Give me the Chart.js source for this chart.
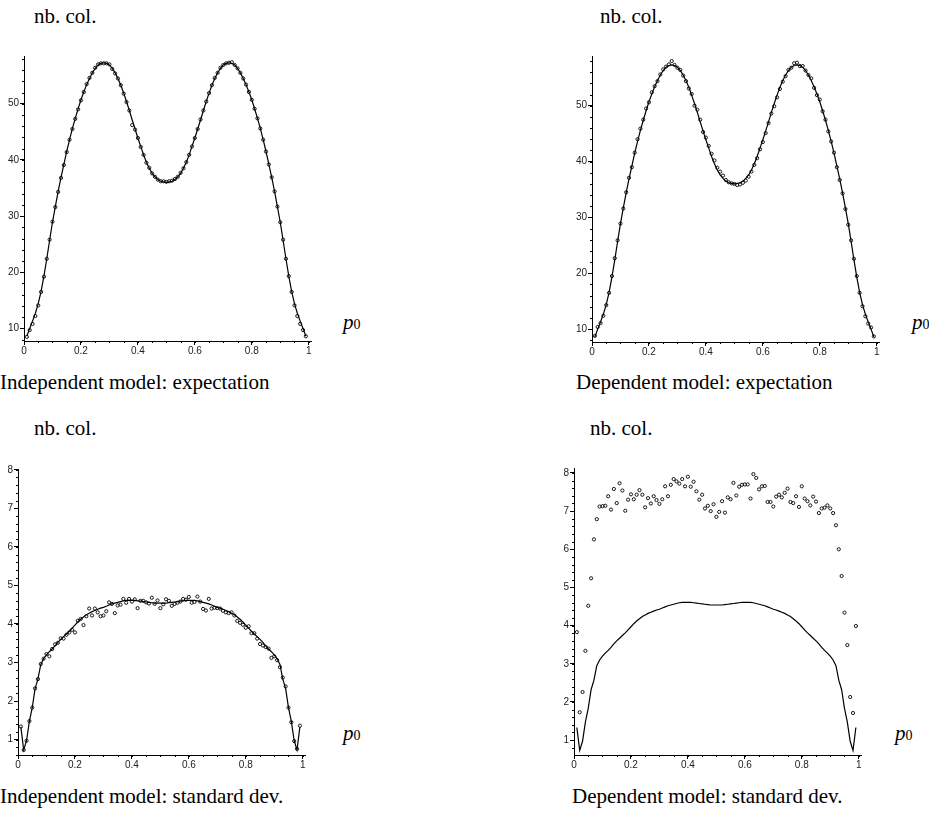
<!DOCTYPE html>
<html>
<head>
<meta charset="utf-8">
<script src="https://cdn.jsdelivr.net/npm/chart.js@4.4.0/dist/chart.umd.min.js"></script>
<style>
    html, body { margin: 0; padding: 0; background: #fff; }
    #page { position: relative; width: 929px; height: 816px; overflow: hidden; }
    #page canvas { position: absolute; }
    .txt {
        position: absolute;
        font-family: "Liberation Serif", "Times New Roman", serif;
        font-size: 21px;
        line-height: 21px;
        white-space: nowrap;
        color: #000;
    }
    .p0 i { font-size: 21px; }
    .p0 span { font-size: 14px; }
</style>
</head>
<body>
<div id="page">
    <canvas id="c1"></canvas>
    <canvas id="c2"></canvas>
    <canvas id="c3"></canvas>
    <canvas id="c4"></canvas>

    <div class="txt" style="left:34px;top:6px;">nb. col.</div>
    <div class="txt" style="left:600px;top:6px;">nb. col.</div>
    <div class="txt" style="left:34px;top:418px;">nb. col.</div>
    <div class="txt" style="left:590px;top:418px;">nb. col.</div>

    <div class="txt p0" style="left:343px;top:312px;"><i>p</i><span>0</span></div>
    <div class="txt p0" style="left:912px;top:312px;"><i>p</i><span>0</span></div>
    <div class="txt p0" style="left:343px;top:723px;"><i>p</i><span>0</span></div>
    <div class="txt p0" style="left:895px;top:723px;"><i>p</i><span>0</span></div>

    <div class="txt" style="left:0px;top:372px;">Independent model: expectation</div>
    <div class="txt" style="left:576px;top:372px;">Dependent model: expectation</div>
    <div class="txt" style="left:0px;top:786px;">Independent model: standard dev.</div>
    <div class="txt" style="left:572px;top:786px;">Dependent model: standard dev.</div>
</div>

<script>
/* =========================
   DATA
========================= */
const P0 = [
    0.01, 0.02, 0.03, 0.04, 0.05, 0.06, 0.07, 0.08, 0.09, 0.10,
    0.11, 0.12, 0.13, 0.14, 0.15, 0.16, 0.17, 0.18, 0.19, 0.20,
    0.21, 0.22, 0.23, 0.24, 0.25, 0.26, 0.27, 0.28, 0.29, 0.30,
    0.31, 0.32, 0.33, 0.34, 0.35, 0.36, 0.37, 0.38, 0.39, 0.40,
    0.41, 0.42, 0.43, 0.44, 0.45, 0.46, 0.47, 0.48, 0.49, 0.50,
    0.51, 0.52, 0.53, 0.54, 0.55, 0.56, 0.57, 0.58, 0.59, 0.60,
    0.61, 0.62, 0.63, 0.64, 0.65, 0.66, 0.67, 0.68, 0.69, 0.70,
    0.71, 0.72, 0.73, 0.74, 0.75, 0.76, 0.77, 0.78, 0.79, 0.80,
    0.81, 0.82, 0.83, 0.84, 0.85, 0.86, 0.87, 0.88, 0.89, 0.90,
    0.91, 0.92, 0.93, 0.94, 0.95, 0.96, 0.97, 0.98, 0.99
];

const X_TICKS = [0, 0.2, 0.4, 0.6, 0.8, 1];
const EXP_TICKS = [10, 20, 30, 40, 50];
const STD_TICKS = [1, 2, 3, 4, 5, 6, 7, 8];

// theoretical expectation (solid line, both top panels)
const EXP_LINE = [
    8.6, 10.0, 11.3, 12.7, 14.4, 16.6, 19.3, 22.4, 25.7, 28.9,
    31.7, 34.4, 36.9, 39.2, 41.5, 43.6, 45.6, 47.4, 49.1, 50.7,
    52.1, 53.4, 54.5, 55.5, 56.3, 56.9, 57.2, 57.3, 57.2, 56.9,
    56.3, 55.5, 54.5, 53.3, 51.9, 50.4, 48.8, 47.1, 45.5, 43.9,
    42.4, 40.9, 39.6, 38.5, 37.6, 37.0, 36.5, 36.2, 36.1, 36.0,
    36.1, 36.2, 36.5, 37.0, 37.6, 38.5, 39.6, 40.9, 42.4, 43.9,
    45.5, 47.1, 48.8, 50.4, 51.9, 53.3, 54.5, 55.5, 56.3, 56.9,
    57.2, 57.3, 57.2, 56.9, 56.3, 55.5, 54.5, 53.4, 52.1, 50.7,
    49.1, 47.4, 45.6, 43.6, 41.5, 39.2, 36.9, 34.4, 31.7, 28.9,
    25.7, 22.4, 19.3, 16.6, 14.4, 12.7, 11.3, 10.0, 8.6
];

// simulated expectation, independent model (circles)
const EXP_INDEP = [
    8.5, 9.7, 10.8, 12.2, 14.1, 16.5, 19.2, 22.4, 25.8, 29.0,
    31.6, 34.3, 36.8, 39.1, 41.4, 43.6, 45.5, 47.3, 49.0, 50.6,
    52.1, 53.5, 54.6, 55.5, 56.4, 57.0, 57.2, 57.2, 57.2, 57.0,
    56.2, 55.4, 54.5, 53.3, 51.8, 50.3, 48.8, 46.2, 45.4, 43.9,
    42.3, 40.9, 39.5, 38.6, 37.6, 37.0, 36.5, 36.2, 36.2, 36.1,
    36.2, 36.3, 36.6, 37.0, 37.7, 38.5, 39.6, 40.9, 42.4, 43.9,
    45.5, 47.2, 48.8, 50.4, 51.9, 53.3, 54.6, 55.5, 56.4, 56.9,
    57.2, 57.3, 57.4, 56.9, 56.3, 55.5, 54.5, 53.4, 52.1, 50.7,
    49.1, 47.4, 45.6, 43.6, 41.5, 39.2, 36.9, 34.4, 31.7, 28.9,
    25.8, 22.4, 19.3, 16.5, 14.1, 12.2, 10.8, 9.7, 8.6
];

// simulated expectation, dependent model (circles)
const EXP_DEP = [
    8.8, 10.4, 11.1, 12.4, 14.3, 16.5, 19.5, 22.7, 25.9, 28.9,
    31.6, 34.5, 37.1, 39.0, 41.6, 44.0, 45.9, 47.5, 49.5, 50.6,
    52.4, 53.5, 54.4, 55.6, 56.5, 57.0, 57.4, 58.0, 57.3, 56.8,
    56.4, 55.4, 54.4, 53.1, 52.1, 50.0, 49.3, 47.5, 45.3, 44.3,
    42.8, 41.4, 40.2, 38.9, 38.2, 37.5, 36.7, 36.3, 36.1, 36.0,
    35.8, 35.9, 36.2, 36.6, 37.3, 38.2, 39.4, 40.6, 42.2, 43.5,
    45.1, 46.9, 48.6, 49.9, 51.5, 53.0, 54.3, 55.3, 56.4, 56.8,
    57.6, 57.7, 57.1, 57.1, 56.3, 55.5, 54.9, 53.2, 51.9, 51.1,
    49.0, 47.5, 45.4, 43.6, 41.6, 39.0, 36.7, 34.3, 31.5, 28.7,
    25.9, 22.6, 19.5, 16.5, 14.1, 12.3, 11.0, 10.3, 8.7
];

// theoretical standard deviation (solid line, both bottom panels)
const STD_LINE = [
    1.33, 0.73, 0.97, 1.47, 1.83, 2.32, 2.57, 2.95, 3.10, 3.20,
    3.28, 3.35, 3.43, 3.52, 3.60, 3.67, 3.74, 3.81, 3.89, 3.97,
    4.05, 4.12, 4.18, 4.24, 4.28, 4.32, 4.35, 4.38, 4.41, 4.43,
    4.46, 4.49, 4.52, 4.54, 4.56, 4.58, 4.60, 4.61, 4.61, 4.61,
    4.61, 4.60, 4.59, 4.58, 4.57, 4.56, 4.55, 4.54, 4.54, 4.54,
    4.54, 4.54, 4.55, 4.56, 4.57, 4.58, 4.59, 4.60, 4.61, 4.61,
    4.61, 4.61, 4.60, 4.58, 4.56, 4.54, 4.52, 4.49, 4.46, 4.43,
    4.41, 4.38, 4.35, 4.32, 4.28, 4.24, 4.18, 4.12, 4.05, 3.97,
    3.89, 3.81, 3.74, 3.67, 3.60, 3.52, 3.43, 3.35, 3.28, 3.20,
    3.10, 2.95, 2.57, 2.32, 1.83, 1.47, 0.97, 0.73, 1.33
];

// simulated standard deviation, independent model (circles)
const STD_INDEP = [
    1.34, 0.73, 0.97, 1.48, 1.83, 2.33, 2.57, 2.96, 3.10, 3.22,
    3.16, 3.35, 3.47, 3.51, 3.63, 3.62, 3.72, 3.78, 3.85, 3.78,
    4.08, 4.13, 3.97, 4.20, 4.40, 4.22, 4.40, 4.30, 4.20, 4.22,
    4.33, 4.56, 4.52, 4.28, 4.48, 4.50, 4.65, 4.55, 4.65, 4.58,
    4.64, 4.41, 4.60, 4.60, 4.56, 4.53, 4.68, 4.52, 4.61, 4.41,
    4.51, 4.64, 4.60, 4.47, 4.52, 4.55, 4.58, 4.65, 4.63, 4.70,
    4.55, 4.57, 4.71, 4.58, 4.39, 4.35, 4.65, 4.40, 4.42, 4.41,
    4.40, 4.34, 4.30, 4.28, 4.30, 4.22, 4.08, 4.03, 3.98, 3.90,
    3.94, 3.76, 3.76, 3.62, 3.48, 3.44, 3.40, 3.36, 3.12, 3.16,
    3.06, 2.88, 2.61, 2.38, 1.83, 1.45, 0.96, 0.76, 1.36
];

// simulated standard deviation, dependent model (circles)
const STD_DEP = [
    3.83, 1.73, 2.26, 3.34, 4.52, 5.24, 6.26, 6.79, 7.12, 7.13,
    7.14, 7.39, 7.04, 7.58, 7.21, 7.73, 7.54, 7.01, 7.30, 7.44,
    7.31, 7.43, 7.55, 7.43, 7.10, 7.34, 7.20, 7.39, 7.29, 7.19,
    7.31, 7.65, 7.39, 7.69, 7.84, 7.78, 7.72, 7.84, 7.65, 7.90,
    7.64, 7.77, 7.52, 7.30, 7.43, 7.07, 7.14, 7.00, 7.18, 6.85,
    6.98, 7.26, 6.96, 7.36, 7.31, 7.74, 7.41, 7.64, 7.69, 7.70,
    7.70, 7.33, 7.97, 7.87, 7.57, 7.65, 7.66, 7.24, 7.24, 7.12,
    7.38, 7.43, 7.36, 7.48, 7.59, 7.24, 7.21, 7.39, 7.11, 7.65,
    7.33, 7.26, 7.15, 7.38, 7.25, 6.95, 7.07, 7.09, 7.15, 7.07,
    6.95, 6.63, 6.00, 5.30, 4.34, 3.49, 2.13, 1.71, 3.99
];

/* =========================
   LAYOUT CONSTANTS
========================= */
const PX_PER_UNIT = 284.5;   // horizontal pixels per unit of p0
const X_MAX = 1.008;
const Y_AXIS_W = 30;
const X_AXIS_H = 22;
const PAD_T = 4;
const PAD_R = 6;

/* =========================
   MINOR TICKS PLUGIN
========================= */
const minorTicks = {
    id: 'minorTicks',
    afterDraw(chart, args, opts) {
        const { ctx, chartArea, scales } = chart;
        const xs = scales.x, ys = scales.y;
        ctx.save();
        ctx.strokeStyle = '#000';
        ctx.lineWidth = 1;
        ctx.beginPath();

        for (let k = Math.ceil(xs.min / opts.x - 1e-9); k * opts.x <= xs.max + 1e-9; k++) {
            const px = Math.round(xs.getPixelForValue(k * opts.x)) + 0.5;
            ctx.moveTo(px, chartArea.bottom);
            ctx.lineTo(px, chartArea.bottom + 2);
        }
        for (let k = Math.ceil(ys.min / opts.y - 1e-9); k * opts.y <= ys.max + 1e-9; k++) {
            const py = Math.round(ys.getPixelForValue(k * opts.y)) + 0.5;
            ctx.moveTo(chartArea.left, py);
            ctx.lineTo(chartArea.left - 2, py);
        }
        ctx.stroke();
        ctx.restore();
    }
};

const tickFont = { family: '"Liberation Sans", Arial, sans-serif', size: 10 };

function toPoints(values) {
    return P0.map((x, i) => ({ x: x, y: values[i] }));
}

/* =========================
   ONE PANEL
========================= */
function makePanel(id, axisLeft, axisTop, axisBottom, yMin, yMax, yTicks, yMinor, line, sims) {
    const canvas = document.getElementById(id);
    const w = Y_AXIS_W + Math.round(X_MAX * PX_PER_UNIT) + PAD_R;
    const h = PAD_T + (axisBottom - axisTop) + X_AXIS_H;

    canvas.width = w;
    canvas.height = h;
    canvas.style.width = w + 'px';
    canvas.style.height = h + 'px';
    canvas.style.left = (axisLeft - Y_AXIS_W) + 'px';
    canvas.style.top = (axisTop - PAD_T) + 'px';

    return new Chart(canvas.getContext('2d'), {
        type: 'scatter',
        data: {
            datasets: [
                {
                    data: toPoints(line),
                    showLine: true,
                    borderColor: '#000',
                    borderWidth: 1.2,
                    pointRadius: 0,
                    tension: 0
                },
                {
                    data: toPoints(sims),
                    showLine: false,
                    pointStyle: 'circle',
                    pointRadius: 1.6,
                    pointBorderWidth: 0.9,
                    pointBorderColor: '#000',
                    pointBackgroundColor: 'rgba(255,255,255,0)'
                }
            ]
        },
        options: {
            responsive: false,
            animation: false,
            layout: {
                autoPadding: false,
                padding: { top: PAD_T, right: PAD_R, left: 0, bottom: 0 }
            },
            plugins: {
                legend: { display: false },
                tooltip: { enabled: false },
                minorTicks: { x: 0.05, y: yMinor }
            },
            scales: {
                x: {
                    type: 'linear',
                    position: 'bottom',
                    min: 0,
                    max: X_MAX,
                    afterBuildTicks: s => { s.ticks = X_TICKS.map(v => ({ value: v })); },
                    afterFit: s => { s.height = X_AXIS_H; },
                    ticks: {
                        font: tickFont,
                        color: '#222',
                        padding: 0,
                        maxRotation: 0,
                        autoSkip: false,
                        callback: v => String(v)
                    },
                    grid: { drawOnChartArea: false, drawTicks: true, tickLength: 4, color: '#000' },
                    border: { display: true, color: '#000', width: 1 }
                },
                y: {
                    type: 'linear',
                    position: 'left',
                    min: yMin,
                    max: yMax,
                    afterBuildTicks: s => { s.ticks = yTicks.map(v => ({ value: v })); },
                    afterFit: s => { s.width = Y_AXIS_W; },
                    ticks: {
                        font: tickFont,
                        color: '#222',
                        padding: 1,
                        autoSkip: false,
                        callback: v => String(v)
                    },
                    grid: { drawOnChartArea: false, drawTicks: true, tickLength: 4, color: '#000' },
                    border: { display: true, color: '#000', width: 1 }
                }
            }
        },
        plugins: [minorTicks]
    });
}

/* =========================
   INITIAL LOAD
========================= */
makePanel('c1', 24, 53, 341, 7.76, 58.5, EXP_TICKS, 2, EXP_LINE, EXP_INDEP);
makePanel('c2', 592, 53, 342, 7.70, 58.9, EXP_TICKS, 2, EXP_LINE, EXP_DEP);
makePanel('c3', 18, 466, 755, 0.60, 8.02, STD_TICKS, 0.2, STD_LINE, STD_INDEP);
makePanel('c4', 574, 465, 755, 0.61, 8.13, STD_TICKS, 0.2, STD_LINE, STD_DEP);
</script>
</body>
</html>
